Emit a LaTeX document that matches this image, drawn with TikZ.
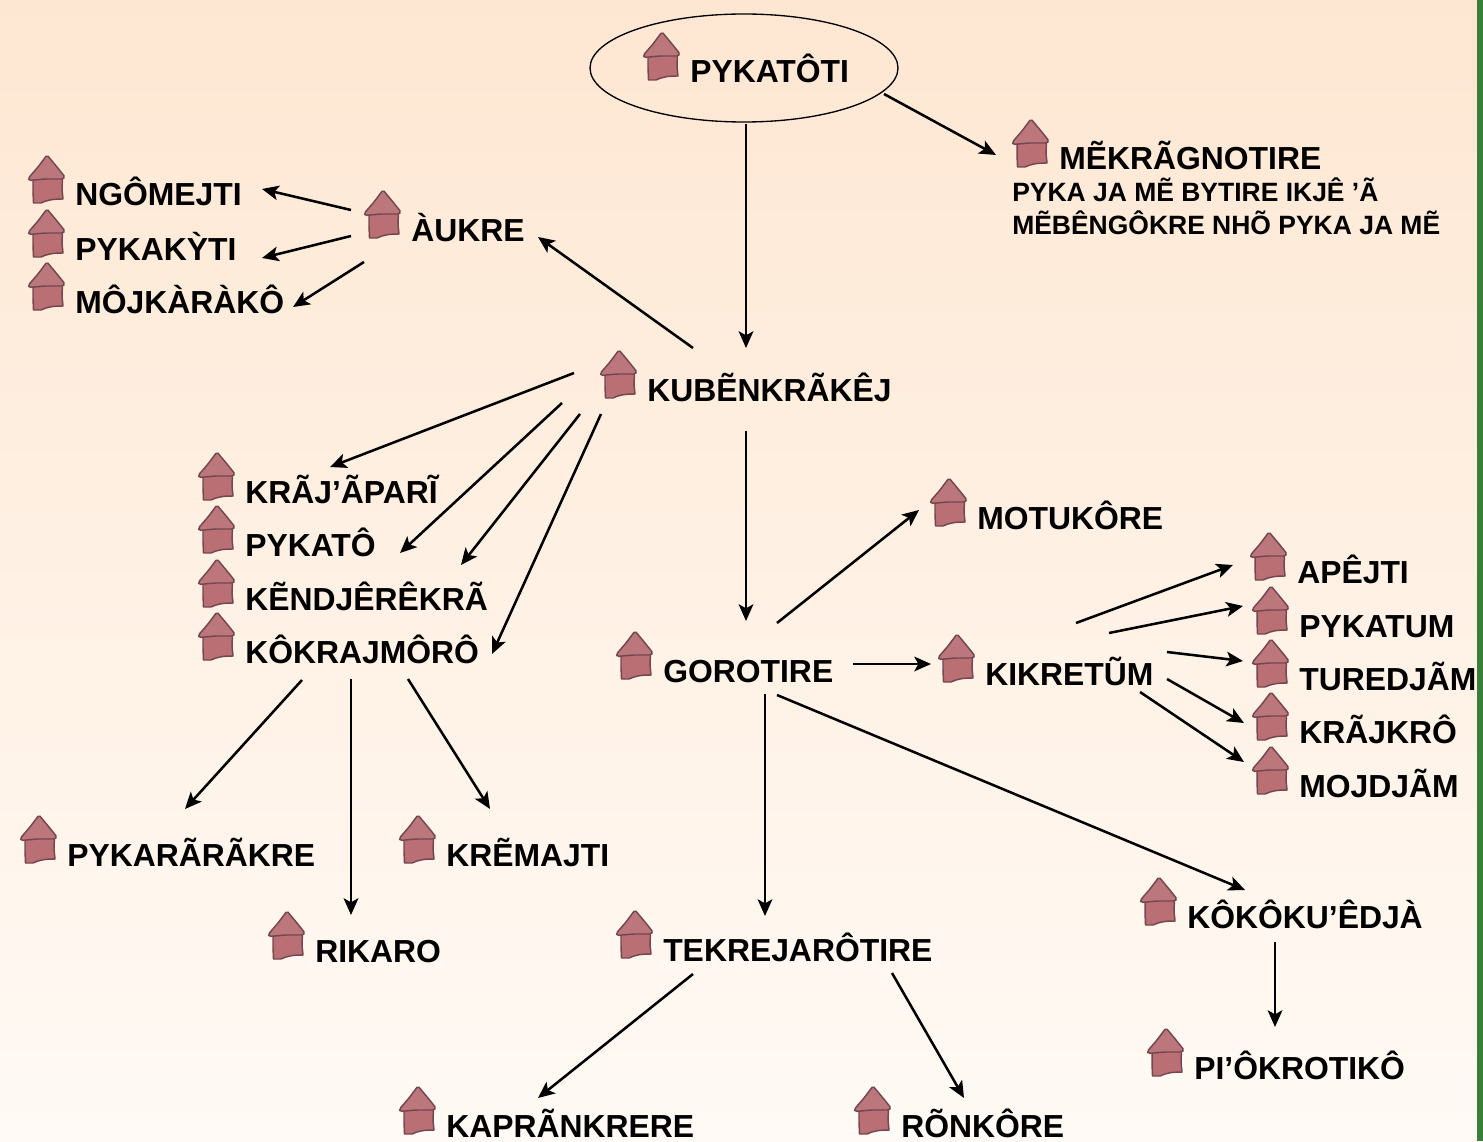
\documentclass[tikz,border=0pt]{standalone}
\usepackage{fontspec}
\setmainfont{Liberation Sans}
\usetikzlibrary{arrows.meta,calc,shapes.geometric}
\definecolor{hutroof}{HTML}{BC777C}
\definecolor{hutbody}{HTML}{BA6F75}
\definecolor{hutedge}{HTML}{74474F}
\definecolor{bgtop}{HTML}{FEE7D2}
\definecolor{bgbot}{HTML}{FFFAF5}
\definecolor{barg}{HTML}{3A7F37}
\tikzset{
  lbl/.style={anchor=base west,inner sep=0pt,font=\fontsize{23.9pt}{28pt}\selectfont\bfseries,text=black},
  small/.style={anchor=base west,inner sep=0pt,font=\fontsize{19.85pt}{23pt}\selectfont\bfseries,text=black},
  arr/.style={-{Stealth[length=12.5pt,width=11pt,inset=3pt]},line width=1.9pt,black},
  hut/.pic={
    \fill[hutbody,draw=hutedge,line width=1.1pt,line join=round]
      (-42,-27) -- (-12.5,-29) -- (-13,-17) -- (-12,-7) .. controls (-22,-7) and (-28,-6) .. (-34,-3) -- (-41.5,-3) -- (-42,-15) -- cycle;
    \fill[hutroof,draw=hutedge,line width=1.1pt,line join=round,rounded corners=1.2pt]
      (-28,-51) -- (-18,-39) -- (-10,-29) -- (-12,-27) -- (-30,-27) -- (-46,-25.5) -- (-46.5,-28) -- (-37,-39) -- cycle;
  }
}
\newcommand{\lab}[4]{\node[lbl] (#1) at (#2,#3) {#4}; \pic at (#1.base west) {hut};}
\newcommand{\lnk}[4]{\draw[arr] ($(#1.base west)+#2$) -- ($(#3.base west)+#4$);}
\begin{document}
\begin{tikzpicture}[x=.75pt,y=-.75pt]
\useasboundingbox (0,0) rectangle (1483,1141);
\shade[top color=bgtop,bottom color=bgbot] (0,0) rectangle (1477,1141);
\fill[barg] (1477,0) rectangle (1483,1141);
\node[draw=black,line width=1pt,ellipse,minimum width=231pt,minimum height=81pt,inner sep=0pt,anchor=center] (top) at (744,68) {};
\node[anchor=base west,inner sep=0pt,minimum size=0pt] (topb) at (744,69) {};
\lab{pkt}{690}{83}{PYKATÔTI}
\lab{mek}{1059}{170}{MẼKRÃGNOTIRE}
\node[small] (sa) at (1012,202) {PYKA JA MẼ BYTIRE IKJÊ ’Ã};
\node[small] (sb) at (1012,234) {MẼBÊNGÔKRE NHÕ PYKA JA MẼ};
\lab{ngo}{75}{206}{NGÔMEJTI}
\lab{pkk}{75}{260}{PYKAKỲTI}
\lab{moj}{75}{313}{MÔJKÀRÀKÔ}
\lab{auk}{411}{241}{ÀUKRE}
\lab{kub}{647}{401}{KUBẼNKRÃKÊJ}
\lab{kra}{245}{503}{KRÃJ’ÃPARĨ}
\lab{pko}{245}{556}{PYKATÔ}
\lab{ken}{245}{610}{KẼNDJÊRÊKRÃ}
\lab{kok}{245}{663}{KÔKRAJMÔRÔ}
\lab{mot}{977}{529}{MOTUKÔRE}
\lab{ape}{1297}{583}{APÊJTI}
\lab{pkm}{1299}{637}{PYKATUM}
\lab{tur}{1299}{690}{TUREDJÃM}
\lab{krk}{1299}{743}{KRÃJKRÔ}
\lab{mdj}{1299}{797}{MOJDJÃM}
\lab{gor}{663}{682}{GOROTIRE}
\lab{kik}{985}{685}{KIKRETŨM}
\lab{pkr}{67}{866}{PYKARÃRÃKRE}
\lab{kre}{446}{866}{KRẼMAJTI}
\lab{rik}{315}{962}{RIKARO}
\lab{tek}{663}{961}{TEKREJARÔTIRE}
\lab{kku}{1187}{928}{KÔKÔKU’ÊDJÀ}
\lab{pio}{1194}{1079}{PI’ÔKROTIKÔ}
\lab{kap}{446}{1137}{KAPRÃNKRERE}
\lab{ron}{901}{1137}{RÕNKÔRE}
\lnk{topb}{(2,55)}{kub}{(99,-53)}
\lnk{topb}{(140,25)}{mek}{(-63,-15)}
\lnk{kub}{(46,-53)}{auk}{(127,-4)}
\lnk{auk}{(-60,-31)}{ngo}{(187,-17)}
\lnk{auk}{(-60,-5)}{pkk}{(187,-2)}
\lnk{auk}{(-47,21)}{moj}{(218,-6)}
\lnk{kub}{(-73,-28)}{kra}{(85,-36)}
\lnk{kub}{(-85,2)}{pko}{(155,-3)}
\lnk{kub}{(-67,13)}{ken}{(216,-45)}
\lnk{kub}{(-46,13)}{kok}{(247,-9)}
\lnk{kub}{(99,30)}{gor}{(83,-61)}
\lnk{kok}{(57,17)}{pkr}{(118,-57)}
\lnk{kok}{(106,16)}{rik}{(36,-47)}
\lnk{kok}{(163,16)}{kre}{(44,-57)}
\lnk{gor}{(114,-59)}{mot}{(-58,-19)}
\lnk{gor}{(190,-18)}{kik}{(-54,-21)}
\lnk{kik}{(91,-62)}{ape}{(-64,-18)}
\lnk{kik}{(124,-52)}{pkm}{(-56,-31)}
\lnk{kik}{(182,-33)}{tur}{(-56,-29)}
\lnk{kik}{(182,-6)}{krk}{(-55,-20)}
\lnk{kik}{(155,7)}{mdj}{(-55,-35)}
\lnk{gor}{(102,12)}{tek}{(102,-45)}
\lnk{gor}{(114,13)}{kku}{(58,-38)}
\lnk{kku}{(88,14)}{pio}{(81,-52)}
\lnk{tek}{(30,13)}{kap}{(92,-39)}
\lnk{tek}{(229,12)}{ron}{(63,-39)}
\end{tikzpicture}
\end{document}
